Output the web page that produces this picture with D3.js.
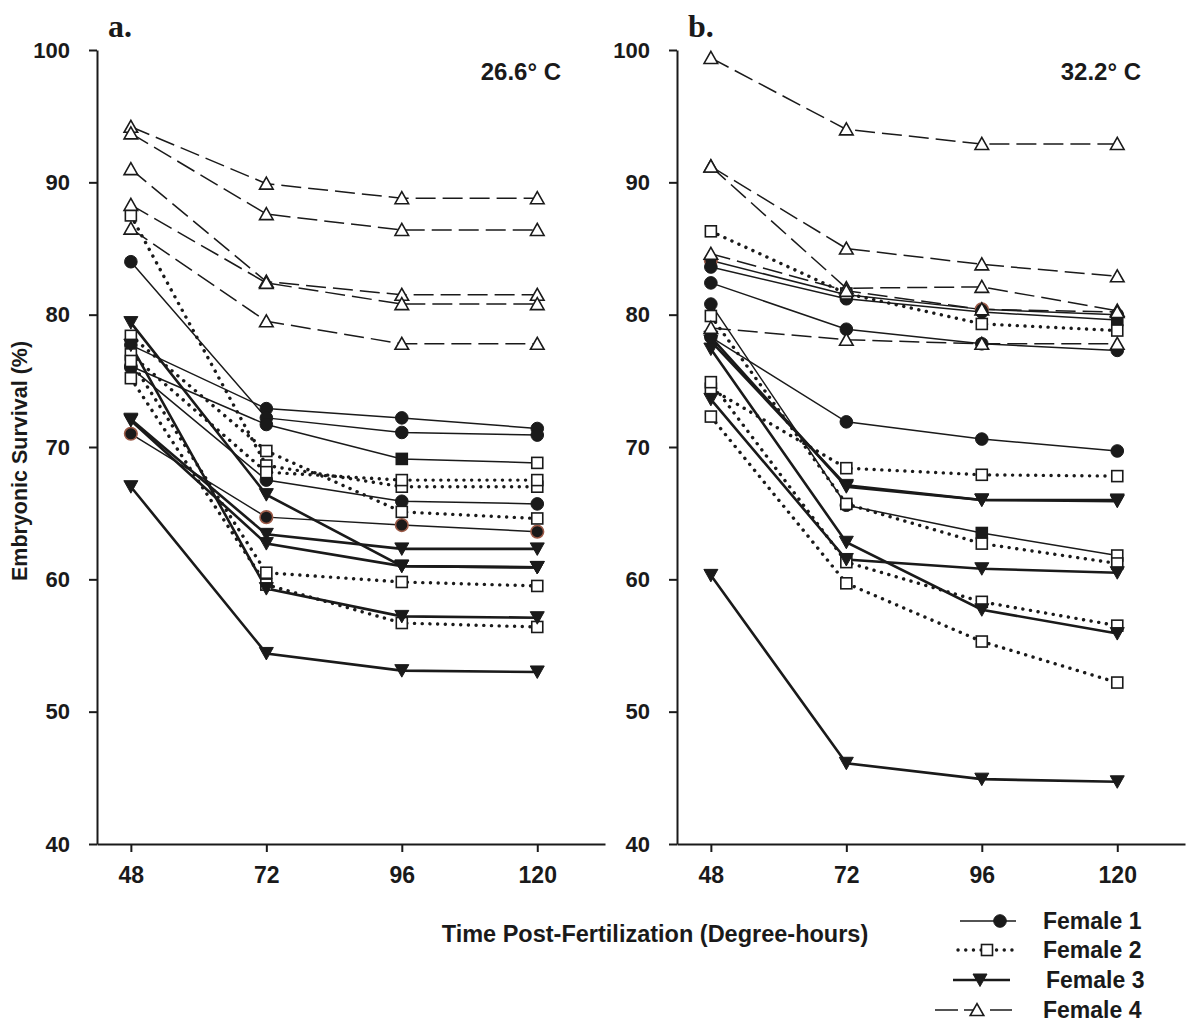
<!DOCTYPE html>
<html>
<head>
<meta charset="utf-8">
<script src="https://cdn.jsdelivr.net/npm/d3@7"></script>
<style>
  html, body { margin: 0; padding: 0; background: #ffffff; }
  svg { display: block; }
  text { font-family: "Liberation Sans", Arial, sans-serif; fill: #1a1a1a; }
</style>
</head>
<body>
<svg id="chart" width="1187" height="1029"></svg>
<script>
// ---------------- DATA ----------------
const times = [48, 72, 96, 120];
const yTicks = [40, 50, 60, 70, 80, 90, 100];
const femaleLabels = ["Female 1", "Female 2", "Female 3", "Female 4"];
const panelLetters = ["a.", "b."];
const panelTemps = ["26.6° C", "32.2° C"];
const yTitle = "Embryonic Survival (%)";
const xTitle = "Time Post-Fertilization (Degree-hours)";

// Panel a (26.6 °C): each row = one replicate line, values at 48/72/96/120
const female1A = [
  [77.7, 72.9, 72.2, 71.4],
  [84.0, 72.2, 71.1, 70.9],
  [76.1, 71.7, 69.1, 68.8],
  [76.0, 67.5, 65.9, 65.7],
  [71.0, 64.7, 64.1, 63.6]
];
const female2A = [
  [87.5, 68.6, 67.0, 67.0],
  [78.4, 69.7, 65.1, 64.6],
  [77.0, 68.1, 67.5, 67.5],
  [76.5, 60.5, 59.8, 59.5],
  [75.2, 59.6, 56.7, 56.4]
];
const female3A = [
  [79.4, 66.4, 61.0, 60.9],
  [77.7, 59.3, 57.2, 57.1],
  [72.1, 63.4, 62.3, 62.3],
  [72.0, 62.7, 61.0, 60.9],
  [67.0, 54.4, 53.1, 53.0]
];
const female4A = [
  [94.2, 89.9, 88.8, 88.8],
  [93.7, 87.6, 86.4, 86.4],
  [91.0, 82.5, 81.5, 81.5],
  [88.3, 82.4, 80.8, 80.8],
  [86.5, 79.5, 77.8, 77.8]
];

// Panel b (32.2 °C)
const female1B = [
  [84.1, 81.5, 80.4, 80.0],
  [83.6, 81.2, 80.2, 79.6],
  [82.4, 78.9, 77.8, 77.3],
  [78.3, 71.9, 70.6, 69.7],
  [80.8, 65.6, 63.5, 61.8]
];
const female2B = [
  [86.3, 81.6, 79.3, 78.8],
  [79.9, 65.7, 62.7, 61.2],
  [74.4, 68.4, 67.9, 67.8],
  [74.9, 61.3, 58.3, 56.5],
  [72.3, 59.7, 55.3, 52.2]
];
const female3B = [
  [78.0, 67.1, 66.0, 66.0],
  [78.3, 67.0, 66.0, 65.9],
  [77.4, 62.8, 57.7, 55.9],
  [73.6, 61.5, 60.8, 60.5],
  [60.3, 46.1, 44.9, 44.7]
];
const female4B = [
  [99.4, 94.0, 92.9, 92.9],
  [91.2, 85.0, 83.8, 82.9],
  [91.2, 82.0, 82.1, 80.3],
  [84.6, 81.8, 80.4, 80.2],
  [79.0, 78.1, 77.8, 77.8]
];

// marker exceptions seen in the figure (panel, female index, line index, point index, symbol)
const markerOverrides = [
  ["a", 0, 2, 2, "squareFilled"],
  ["a", 0, 2, 3, "square"],
  ["b", 0, 4, 2, "squareFilled"],
  ["b", 0, 4, 3, "square"],
  ["b", 0, 1, 3, "squareFilled"]
];
// brown-edged filled circles (panel, female index, line index, point indices)
const brownMarks = [
  ["a", 0, 4, [0, 1, 2, 3]],
  ["b", 0, 0, [0, 2]]
];

// ---------------- STYLE ----------------
const INK = "#1a1a1a";
const BROWN = "#9c5b48";
const seriesStyle = [
  { symbol: "circle",   width: 1.5, dash: null,       cap: "butt"  },
  { symbol: "square",   width: 3.4, dash: "0.1,7.6",  cap: "round" },
  { symbol: "triDown",  width: 2.6, dash: null,       cap: "butt"  },
  { symbol: "triUp",    width: 1.5, dash: "20,7",     cap: "butt"  }
];

const svg = d3.select("#chart");
const y = d3.scaleLinear().domain([40, 100]).range([844, 50]);

function drawSymbol(g, type, cx, cy, brown) {
  if (type === "circle") {
    g.append("circle").attr("cx", cx).attr("cy", cy).attr("r", 6.3)
      .attr("fill", INK).attr("stroke", brown ? BROWN : INK).attr("stroke-width", brown ? 1.6 : 1);
  } else if (type === "square" || type === "squareFilled") {
    const s = 11;
    g.append("rect").attr("x", cx - s / 2).attr("y", cy - s / 2).attr("width", s).attr("height", s)
      .attr("fill", type === "squareFilled" ? INK : "#fff").attr("stroke", INK).attr("stroke-width", 1.6);
  } else if (type === "triDown") {
    const w = 7, h = 11;
    g.append("path").attr("d", `M${cx - w},${cy - h / 2 - 0.5}L${cx + w},${cy - h / 2 - 0.5}L${cx},${cy + h / 2 + 1}Z`)
      .attr("fill", INK).attr("stroke", INK).attr("stroke-width", 1);
  } else if (type === "triUp") {
    const w = 6.8, h = 11;
    g.append("path").attr("d", `M${cx - w},${cy + h / 2}L${cx + w},${cy + h / 2}L${cx},${cy - h / 2 - 1}Z`)
      .attr("fill", "#fff").attr("stroke", INK).attr("stroke-width", 1.6);
  }
}

function drawPanel(key, idx, x0, seriesData) {
  const x = d3.scaleLinear().domain([42, 132]).range([x0, x0 + 508]);
  const g = svg.append("g");

  // axes
  const yAxis = d3.axisLeft(y).tickValues(yTicks).tickSize(8).tickSizeOuter(0).tickPadding(19)
    .tickFormat(d3.format("d"));
  const ya = g.append("g").attr("transform", `translate(${x0},0)`).call(yAxis);
  ya.select(".domain").attr("stroke", INK).attr("stroke-width", 2);
  ya.selectAll(".tick line").attr("stroke", INK).attr("stroke-width", 2);
  ya.selectAll(".tick text").attr("font-size", 22).attr("font-weight", "bold")
    .attr("font-family", "'Liberation Sans', Arial, sans-serif").attr("fill", INK);

  const xAxis = d3.axisBottom(x).tickValues(times).tickSize(8).tickSizeOuter(0).tickPadding(15)
    .tickFormat(d3.format("d"));
  const xa = g.append("g").attr("transform", `translate(0,${y(40)})`).call(xAxis);
  xa.select(".domain").attr("stroke", INK).attr("stroke-width", 2);
  xa.selectAll(".tick line").attr("stroke", INK).attr("stroke-width", 2);
  xa.selectAll(".tick text").attr("font-size", 23).attr("font-weight", "bold")
    .attr("font-family", "'Liberation Sans', Arial, sans-serif").attr("fill", INK);

  // lines
  const line = d3.line().x((d, i) => x(times[i])).y(d => y(d));
  seriesData.forEach((rows, f) => {
    const st = seriesStyle[f];
    rows.forEach(r => {
      g.append("path").attr("d", line(r)).attr("fill", "none").attr("stroke", INK)
        .attr("stroke-width", st.width).attr("stroke-dasharray", st.dash)
        .attr("stroke-linecap", st.cap);
    });
  });
  // markers
  seriesData.forEach((rows, f) => {
    rows.forEach((r, li) => {
      r.forEach((v, pi) => {
        let sym = seriesStyle[f].symbol;
        markerOverrides.forEach(o => {
          if (o[0] === key && o[1] === f && o[2] === li && o[3] === pi) sym = o[4];
        });
        let brown = false;
        brownMarks.forEach(b => {
          if (b[0] === key && b[1] === f && b[2] === li && b[3].includes(pi)) brown = true;
        });
        drawSymbol(g, sym, x(times[pi]), y(v), brown);
      });
    });
  });

  // panel letter and temperature
  g.append("text").attr("x", x0 + 11).attr("y", 37).text(panelLetters[idx])
    .attr("font-weight", "bold").attr("font-size", 32)
    .style("font-family", "'Liberation Serif', 'Times New Roman', serif");
  g.append("text").attr("x", x0 + 464).attr("y", 80).attr("text-anchor", "end").text(panelTemps[idx])
    .attr("font-weight", "bold").attr("font-size", 24);
}

drawPanel("a", 0, 97, [female1A, female2A, female3A, female4A]);
drawPanel("b", 1, 677, [female1B, female2B, female3B, female4B]);

// axis titles
svg.append("text").attr("transform", "translate(27,461) rotate(-90)").attr("text-anchor", "middle")
  .attr("font-weight", "bold").attr("font-size", 21.5).text(yTitle);
svg.append("text").attr("x", 655).attr("y", 942).attr("text-anchor", "middle")
  .attr("font-weight", "bold").attr("font-size", 23.5).text(xTitle);

// legend
const legendRows = [
  { y: 921, x1: 960, x2: 1016, mx: 1000, tx: 1043 },
  { y: 950, x1: 958, x2: 1017, mx: 987,  tx: 1043 },
  { y: 980, x1: 953, x2: 1010, mx: 980,  tx: 1046 },
  { y: 1010, x1: 935, x2: 1012, mx: 977, tx: 1043 }
];
const lg = svg.append("g");
legendRows.forEach((r, f) => {
  const st = seriesStyle[f];
  if (f === 3) {
    lg.append("line").attr("x1", r.x1).attr("x2", 958).attr("y1", r.y).attr("y2", r.y)
      .attr("stroke", INK).attr("stroke-width", st.width);
    lg.append("line").attr("x1", 964).attr("x2", r.x1 + 42).attr("y1", r.y).attr("y2", r.y)
      .attr("stroke", INK).attr("stroke-width", st.width);
    lg.append("line").attr("x1", 990).attr("x2", r.x2).attr("y1", r.y).attr("y2", r.y)
      .attr("stroke", INK).attr("stroke-width", st.width);
  } else {
    lg.append("line").attr("x1", r.x1).attr("x2", r.x2).attr("y1", r.y).attr("y2", r.y)
      .attr("stroke", INK).attr("stroke-width", st.width).attr("stroke-dasharray", st.dash)
      .attr("stroke-linecap", st.cap);
  }
  drawSymbol(lg, st.symbol, r.mx, r.y, false);
  lg.append("text").attr("x", r.tx).attr("y", r.y + 8).text(femaleLabels[f])
    .attr("font-weight", "bold").attr("font-size", 23);
});
</script>
</body>
</html>
